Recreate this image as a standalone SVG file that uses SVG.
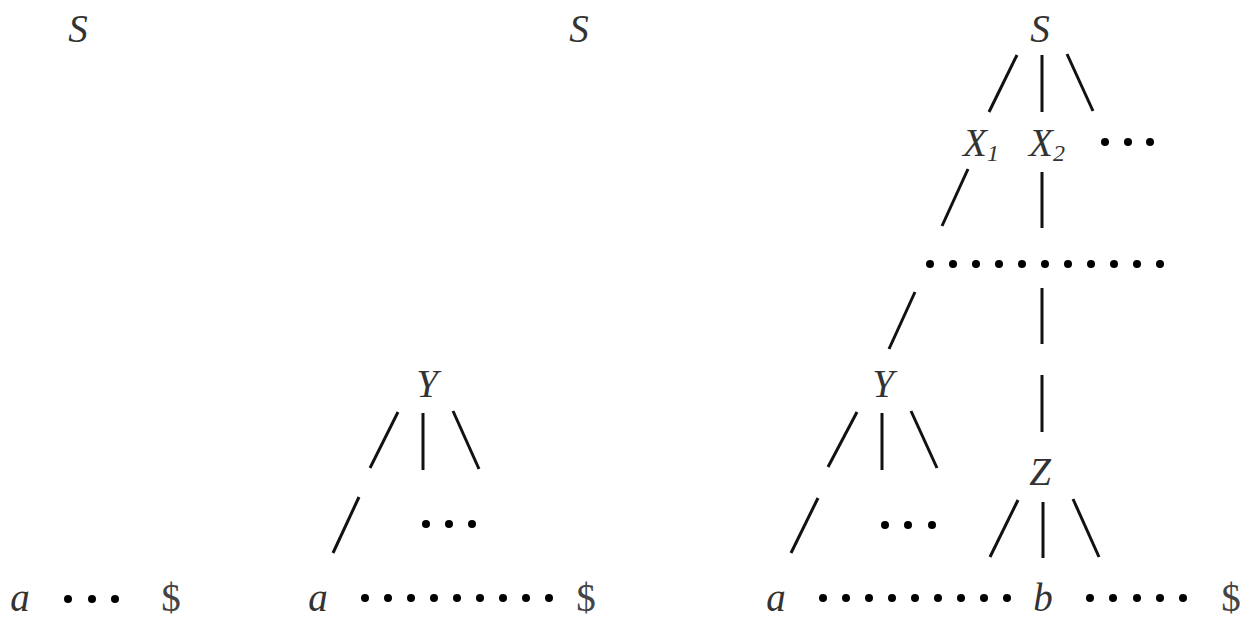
<svg xmlns="http://www.w3.org/2000/svg" width="1242" height="617" viewBox="0 0 1242 617">
<style>
.t{font-family:"Liberation Serif",serif;font-style:italic;font-size:39px;fill:#333;text-anchor:middle}
.u{font-family:"Liberation Serif",serif;font-size:39px;fill:#444;text-anchor:middle}
.sub{font-size:24px}
line{stroke:#111;stroke-width:3;stroke-linecap:butt}
circle{fill:#000}
</style>
<defs><circle id="d" r="4"/></defs>
<rect width="1242" height="617" fill="#fff"/>
<g id="panel1">
<g id="p1-S"><text class="t" x="78" y="42">S</text></g>
<g id="p1-a"><text class="t" x="20" y="611">a</text></g>
<g id="p1-dots"><use href="#d" x="68" y="599"/><use href="#d" x="92" y="599"/><use href="#d" x="115" y="599"/></g>
<g id="p1-dollar"><text class="u" x="171" y="611">$</text></g>
</g>
<g id="panel2">
<g id="p2-S"><text class="t" x="579" y="42">S</text></g>
<g id="p2-Y"><text class="t" x="427" y="397">Y</text></g>
<g id="p2-dots1"><use href="#d" x="426" y="524"/><use href="#d" x="449" y="524"/><use href="#d" x="472" y="524"/></g>
<g id="p2-a"><text class="t" x="318" y="611">a</text></g>
<g id="p2-row"><use href="#d" x="365" y="598"/><use href="#d" x="388" y="598"/><use href="#d" x="411" y="598"/><use href="#d" x="434" y="598"/><use href="#d" x="457" y="598"/><use href="#d" x="480" y="598"/><use href="#d" x="503" y="598"/><use href="#d" x="526" y="598"/><use href="#d" x="549" y="598"/></g>
<g id="p2-dollar"><text class="u" x="586" y="611">$</text></g>
</g>
<g id="panel3">
<g id="p3-S"><text class="t" x="1040" y="42">S</text></g>
<g id="p3-X1"><text class="t" x="981" y="156">X<tspan class="sub" dy="5">1</tspan></text></g>
<g id="p3-X2"><text class="t" x="1047" y="156">X<tspan class="sub" dy="5">2</tspan></text></g>
<g id="p3-dots1"><use href="#d" x="1105" y="142"/><use href="#d" x="1128" y="142"/><use href="#d" x="1150" y="142"/></g>
<g id="p3-row1"><use href="#d" x="930" y="264"/><use href="#d" x="953" y="264"/><use href="#d" x="976" y="264"/><use href="#d" x="999" y="264"/><use href="#d" x="1022" y="264"/><use href="#d" x="1045" y="264"/><use href="#d" x="1068" y="264"/><use href="#d" x="1091" y="264"/><use href="#d" x="1114" y="264"/><use href="#d" x="1137" y="264"/><use href="#d" x="1160" y="264"/></g>
<g id="p3-Y"><text class="t" x="883" y="397">Y</text></g>
<g id="p3-Z"><text class="t" x="1040" y="485">Z</text></g>
<g id="p3-dots2"><use href="#d" x="885" y="525"/><use href="#d" x="908" y="525"/><use href="#d" x="932" y="525"/></g>
<g id="p3-a"><text class="t" x="776" y="611">a</text></g>
<g id="p3-row2"><use href="#d" x="823" y="598"/><use href="#d" x="846" y="598"/><use href="#d" x="869" y="598"/><use href="#d" x="892" y="598"/><use href="#d" x="915" y="598"/><use href="#d" x="938" y="598"/><use href="#d" x="961" y="598"/><use href="#d" x="984" y="598"/><use href="#d" x="1007" y="598"/></g>
<g id="p3-b"><text class="t" x="1043" y="611">b</text></g>
<g id="p3-row3"><use href="#d" x="1090" y="598"/><use href="#d" x="1113" y="598"/><use href="#d" x="1137" y="598"/><use href="#d" x="1160" y="598"/><use href="#d" x="1183" y="598"/></g>
<g id="p3-dollar"><text class="u" x="1231" y="611">$</text></g>
</g>
<g id="connectors">
<line x1="398" y1="412" x2="370" y2="468"/>
<line x1="423" y1="413" x2="423" y2="470"/>
<line x1="453" y1="411" x2="479" y2="469"/>
<line x1="359" y1="497" x2="333" y2="553"/>
<line x1="1017" y1="55" x2="989" y2="112"/>
<line x1="1042" y1="55" x2="1042" y2="112"/>
<line x1="1067" y1="54" x2="1093" y2="111"/>
<line x1="968" y1="169" x2="942" y2="226"/>
<line x1="1042" y1="172" x2="1042" y2="228"/>
<line x1="915" y1="292" x2="889" y2="349"/>
<line x1="1042" y1="288" x2="1042" y2="344"/>
<line x1="1042" y1="375" x2="1042" y2="432"/>
<line x1="857" y1="412" x2="828" y2="467"/>
<line x1="882" y1="413" x2="882" y2="470"/>
<line x1="911" y1="411" x2="937" y2="468"/>
<line x1="818" y1="498" x2="791" y2="553"/>
<line x1="1018" y1="500" x2="990" y2="557"/>
<line x1="1043" y1="502" x2="1043" y2="558"/>
<line x1="1073" y1="499" x2="1099" y2="557"/>
</g>
</svg>
